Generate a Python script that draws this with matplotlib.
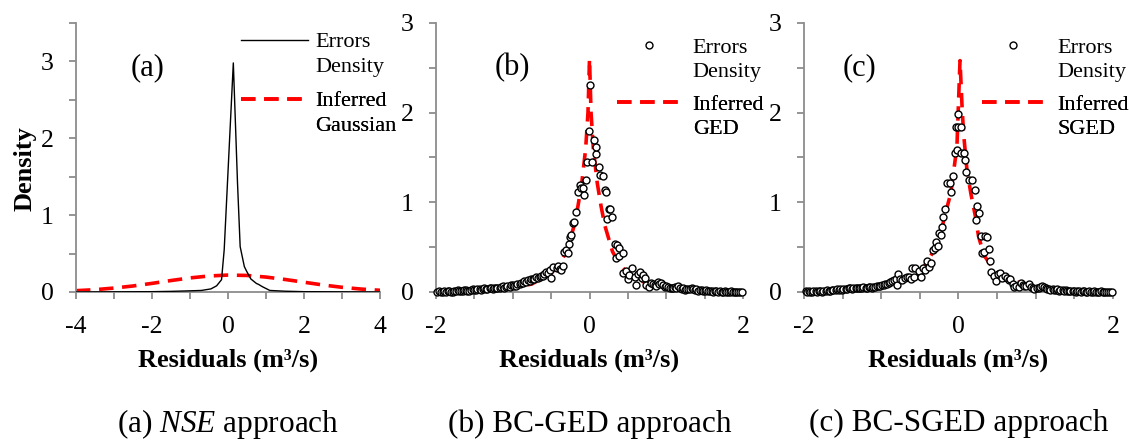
import matplotlib
matplotlib.use("Agg")
import matplotlib.pyplot as plt
from matplotlib.lines import Line2D

plt.rcParams['font.family'] = ['Liberation Serif', 'DejaVu Serif']
plt.rcParams['mathtext.fontset'] = 'custom'
plt.rcParams['mathtext.rm'] = 'Liberation Serif'
plt.rcParams['mathtext.it'] = 'Liberation Serif:italic'
plt.rcParams['axes.unicode_minus'] = False

# (a) NSE: empirical error density and fitted Gaussian
err_a_x = [-4.0, -3.0, -2.0, -1.5, -1.0, -0.7, -0.45, -0.3, -0.17, -0.1, 0.14,
           0.25, 0.32, 0.43, 0.49, 0.6, 0.75, 0.8, 0.9, 1.1, 1.5, 2.0, 3.0, 4.0]
err_a_y = [0.0, 0.002, 0.004, 0.008, 0.015, 0.02, 0.04, 0.08, 0.16, 0.55, 2.98,
           1.42, 0.59, 0.33, 0.27, 0.17, 0.11, 0.10, 0.07, 0.02, 0.01, 0.004, 0.002, 0.0]
gauss_x = [-4.0, -3.5, -3.0, -2.5, -2.0, -1.5, -1.0, -0.5, 0.0, 0.5,
           1.0, 1.5, 2.0, 2.5, 3.0, 3.5, 4.0]
gauss_y = [0.017, 0.030, 0.051, 0.078, 0.112, 0.149, 0.183, 0.208, 0.220, 0.215,
           0.194, 0.163, 0.127, 0.091, 0.061, 0.038, 0.022]

# (b) BC-GED: error density points (10 per row) and fitted GED
err_b_x = [-1.99, -1.96, -1.94, -1.91, -1.89, -1.87, -1.85, -1.83, -1.81, -1.78,
           -1.76, -1.74, -1.72, -1.70, -1.68, -1.65, -1.63, -1.61, -1.59, -1.57,
           -1.55, -1.52, -1.50, -1.48, -1.46, -1.43, -1.41, -1.39, -1.37, -1.35,
           -1.33, -1.30, -1.28, -1.26, -1.24, -1.22, -1.20, -1.17, -1.15, -1.13,
           -1.11, -1.09, -1.07, -1.04, -1.02, -1.00, -0.98, -0.96, -0.94, -0.91,
           -0.89, -0.87, -0.85, -0.83, -0.80, -0.78, -0.76, -0.74, -0.72, -0.70,
           -0.67, -0.65, -0.63, -0.61, -0.59, -0.57, -0.54, -0.52, -0.50, -0.47,
           -0.43, -0.41, -0.39, -0.37, -0.35, -0.33, -0.30, -0.28, -0.27, -0.26,
           -0.24, -0.22, -0.20, -0.17, -0.15, -0.13, -0.11, -0.09, -0.07, -0.04,
           -0.03, -0.01, 0.01, 0.03, 0.06, 0.08, 0.09, 0.12, 0.14, 0.17,
           0.20, 0.22, 0.23, 0.25, 0.27, 0.29, 0.33, 0.35, 0.36, 0.38,
           0.39, 0.43, 0.44, 0.48, 0.50, 0.52, 0.56, 0.59, 0.61, 0.63,
           0.66, 0.68, 0.70, 0.72, 0.74, 0.77, 0.80, 0.83, 0.85, 0.87,
           0.89, 0.91, 0.93, 0.96, 0.98, 1.00, 1.02, 1.05, 1.07, 1.09,
           1.11, 1.13, 1.15, 1.18, 1.20, 1.22, 1.24, 1.26, 1.28, 1.31,
           1.33, 1.35, 1.37, 1.39, 1.41, 1.44, 1.46, 1.48, 1.50, 1.52,
           1.54, 1.57, 1.59, 1.61, 1.63, 1.65, 1.67, 1.70, 1.72, 1.74,
           1.76, 1.78, 1.80, 1.83, 1.85, 1.87, 1.89, 1.91, 1.93, 1.96,
           1.99]
err_b_y = [0.00, 0.01, 0.00, 0.00, 0.01, 0.00, 0.01, 0.01, 0.00, 0.00,
           0.01, 0.01, 0.02, 0.01, 0.01, 0.01, 0.02, 0.02, 0.01, 0.01,
           0.02, 0.03, 0.02, 0.02, 0.03, 0.03, 0.02, 0.03, 0.04, 0.03,
           0.03, 0.04, 0.04, 0.03, 0.05, 0.04, 0.05, 0.04, 0.06, 0.07,
           0.05, 0.06, 0.07, 0.06, 0.08, 0.08, 0.07, 0.07, 0.09, 0.09,
           0.10, 0.10, 0.12, 0.11, 0.13, 0.12, 0.15, 0.14, 0.15, 0.17,
           0.16, 0.17, 0.18, 0.18, 0.20, 0.22, 0.21, 0.25, 0.16, 0.28,
           0.27, 0.29, 0.26, 0.24, 0.29, 0.45, 0.47, 0.43, 0.53, 0.61,
           0.63, 0.77, 0.78, 0.89, 1.12, 1.19, 1.16, 1.16, 1.08, 1.25,
           1.45, 1.79, 2.31, 1.45, 1.70, 1.54, 1.62, 1.39, 1.31, 1.29,
           1.14, 1.11, 0.81, 0.93, 0.92, 0.84, 0.53, 0.38, 0.52, 0.40,
           0.49, 0.43, 0.21, 0.23, 0.14, 0.19, 0.27, 0.17, 0.08, 0.20,
           0.22, 0.16, 0.19, 0.16, 0.08, 0.06, 0.10, 0.09, 0.08, 0.07,
           0.11, 0.09, 0.10, 0.08, 0.06, 0.07, 0.06, 0.05, 0.04, 0.05,
           0.06, 0.05, 0.07, 0.04, 0.03, 0.04, 0.02, 0.03, 0.03, 0.03,
           0.04, 0.03, 0.02, 0.03, 0.01, 0.02, 0.02, 0.01, 0.01, 0.02,
           0.01, 0.01, 0.01, 0.00, 0.01, 0.01, 0.00, 0.01, 0.00, 0.00,
           0.01, 0.00, 0.00, 0.00, 0.01, 0.00, 0.00, 0.00, 0.00, 0.00,
           0.00]
ged_x = [-2.0, -1.5, -1.0, -0.75, -0.5, -0.4, -0.3, -0.2, -0.15, -0.1, -0.05, -0.02, 0.0,
         0.02, 0.05, 0.1, 0.15, 0.2, 0.3, 0.4, 0.5, 0.75, 1.0, 1.5, 2.0]
ged_y = [0.004, 0.012, 0.04, 0.09, 0.21, 0.30, 0.45, 0.74, 0.96, 1.22, 1.60, 2.0, 2.6,
         2.0, 1.60, 1.22, 0.96, 0.74, 0.45, 0.30, 0.21, 0.09, 0.04, 0.012, 0.004]

# (c) BC-SGED: error density points (10 per row) and fitted SGED
err_c_x = [-1.98, -1.96, -1.94, -1.92, -1.90, -1.88, -1.85, -1.83, -1.81, -1.79,
           -1.77, -1.75, -1.72, -1.70, -1.68, -1.66, -1.64, -1.62, -1.59, -1.57,
           -1.55, -1.53, -1.51, -1.49, -1.46, -1.44, -1.42, -1.40, -1.38, -1.36,
           -1.33, -1.31, -1.29, -1.27, -1.25, -1.23, -1.20, -1.18, -1.16, -1.14,
           -1.12, -1.10, -1.08, -1.06, -1.03, -1.01, -0.99, -0.97, -0.95, -0.93,
           -0.90, -0.88, -0.86, -0.84, -0.81, -0.80, -0.78, -0.76, -0.73, -0.69,
           -0.66, -0.64, -0.62, -0.60, -0.58, -0.56, -0.51, -0.49, -0.46, -0.43,
           -0.41, -0.38, -0.36, -0.33, -0.30, -0.29, -0.26, -0.25, -0.23, -0.21,
           -0.20, -0.18, -0.15, -0.11, -0.10, -0.07, -0.05, -0.03, -0.02, -0.01,
           0.00, 0.03, 0.03, 0.07, 0.09, 0.10, 0.13, 0.18, 0.21, 0.23,
           0.24, 0.26, 0.29, 0.31, 0.33, 0.34, 0.37, 0.39, 0.41, 0.42,
           0.46, 0.49, 0.51, 0.54, 0.57, 0.60, 0.63, 0.65, 0.67, 0.70,
           0.72, 0.75, 0.78, 0.81, 0.83, 0.85, 0.88, 0.91, 0.94, 0.96,
           0.98, 1.02, 1.04, 1.06, 1.08, 1.11, 1.13, 1.15, 1.17, 1.19,
           1.22, 1.24, 1.26, 1.28, 1.30, 1.32, 1.35, 1.37, 1.39, 1.41,
           1.43, 1.45, 1.48, 1.50, 1.52, 1.54, 1.56, 1.58, 1.61, 1.63,
           1.65, 1.67, 1.69, 1.71, 1.74, 1.76, 1.78, 1.80, 1.82, 1.84,
           1.87, 1.89, 1.91, 1.93, 1.96, 1.99]
err_c_y = [0.01, 0.00, 0.01, 0.00, 0.00, 0.01, 0.01, 0.00, 0.01, 0.01,
           0.00, 0.01, 0.01, 0.02, 0.01, 0.01, 0.02, 0.02, 0.02, 0.03,
           0.02, 0.03, 0.02, 0.03, 0.03, 0.03, 0.04, 0.04, 0.03, 0.04,
           0.05, 0.05, 0.04, 0.04, 0.05, 0.06, 0.05, 0.05, 0.06, 0.06,
           0.05, 0.06, 0.06, 0.07, 0.07, 0.07, 0.08, 0.08, 0.09, 0.09,
           0.10, 0.11, 0.12, 0.13, 0.14, 0.08, 0.20, 0.15, 0.13, 0.16,
           0.17, 0.17, 0.14, 0.27, 0.17, 0.27, 0.23, 0.17, 0.27, 0.25,
           0.34, 0.28, 0.32, 0.47, 0.49, 0.56, 0.51, 0.66, 0.63, 0.73,
           0.84, 0.92, 1.22, 1.21, 1.12, 1.29, 1.55, 1.84, 1.58, 1.99,
           1.84, 1.84, 1.55, 1.55, 1.47, 1.34, 1.25, 1.25, 1.14, 0.80,
           0.96, 0.88, 0.62, 0.43, 0.45, 0.62, 0.61, 0.48, 0.34, 0.22,
           0.18, 0.12, 0.20, 0.21, 0.16, 0.18, 0.16, 0.13, 0.14, 0.09,
           0.06, 0.07, 0.06, 0.10, 0.08, 0.07, 0.07, 0.09, 0.06, 0.05,
           0.03, 0.04, 0.05, 0.06, 0.07, 0.06, 0.05, 0.03, 0.03, 0.02,
           0.03, 0.02, 0.02, 0.03, 0.01, 0.02, 0.02, 0.01, 0.02, 0.01,
           0.01, 0.01, 0.01, 0.01, 0.00, 0.01, 0.01, 0.00, 0.01, 0.01,
           0.00, 0.00, 0.01, 0.00, 0.00, 0.01, 0.00, 0.00, 0.00, 0.01,
           0.00, 0.00, 0.00, 0.00, 0.00, 0.00]
sged_x = [-2.0, -1.5, -1.0, -0.75, -0.55, -0.45, -0.34, -0.23, -0.18, -0.10, -0.06, -0.02,
          0.02, 0.05, 0.07, 0.11, 0.16, 0.22, 0.26, 0.33, 0.41, 0.50, 0.67, 0.80, 1.0, 1.5, 2.0]
sged_y = [0.004, 0.015, 0.05, 0.11, 0.21, 0.28, 0.43, 0.65, 0.84, 1.10, 1.36, 1.62,
          2.58, 2.0, 1.73, 1.36, 1.10, 0.84, 0.62, 0.41, 0.31, 0.23, 0.14, 0.10, 0.05, 0.015, 0.004]

captions = [r'(a) $\it{NSE}$ approach', '(b) BC-GED approach', '(c) BC-SGED approach']
axis_grey = '#8c8c8c'
red = '#ff0000'
dash = (4.0, 2.4)

fig = plt.figure(figsize=(11.29, 4.4), dpi=100)
ax_a = fig.add_axes([0.0673, 0.3364, 0.2693, 0.6114])
ax_b = fig.add_axes([0.3862, 0.3364, 0.2719, 0.6114])
ax_c = fig.add_axes([0.7121, 0.3364, 0.2737, 0.6114])


def style(ax, xlim, ylim, xmajor, xminor):
    for s in ['top', 'right']:
        ax.spines[s].set_visible(False)
    for s in ['left', 'bottom']:
        ax.spines[s].set_color(axis_grey)
        ax.spines[s].set_linewidth(1.3)
    ax.set_xlim(xlim)
    ax.set_ylim(ylim)
    ax.set_xticks(xmajor)
    ax.set_xticks(xminor, minor=True)
    ax.set_yticks([0, 1, 2, 3])
    ax.set_yticks([0.5, 1.5, 2.5] + ([3.5] if ylim[1] > 3 else []), minor=True)
    ax.tick_params(which='both', direction='out', length=5, width=1.3, color=axis_grey,
                   labelsize=18.5)
    ax.tick_params(axis='x', pad=12.3)
    ax.tick_params(axis='y', pad=11)
    ax.set_xlabel('Residuals (m³/s)', fontsize=19, fontweight='bold', labelpad=7.5)


def key(ax, handle, first, second, anchor, hlen, tpad):
    blank = Line2D([], [], linestyle='none')
    leg = ax.legend([handle, blank], [first, second], loc='upper left', bbox_to_anchor=anchor,
                    frameon=False, fontsize=16, handlelength=hlen, handletextpad=tpad,
                    labelspacing=0.17, borderpad=0, borderaxespad=0)
    ax.add_artist(leg)


# (a)
style(ax_a, (-4, 4), (0, 3.5), [-4, -2, 0, 2, 4], range(-4, 5))
line_a, = ax_a.plot(err_a_x, err_a_y, color='black', lw=1.0, zorder=3)
gauss, = ax_a.plot(gauss_x, gauss_y, color=red, lw=2.6, dashes=dash, zorder=2)
ax_a.set_ylabel('Density', fontsize=19, fontweight='bold')
ax_a.yaxis.set_label_coords(-0.13, 0.46)
ax_a.text(0.234, 0.833, '(a)', transform=ax_a.transAxes, fontsize=22, ha='center', va='center')
key(ax_a, line_a, 'Errors', 'Density', (0.543, 0.967), 3.0, 0.35)
key(ax_a, gauss, 'Inferred', 'Gaussian', (0.543, 0.748), 3.0, 0.35)

# (b) and (c)
for ax, ex, ey, fx, fy, tag, name in [
        (ax_b, err_b_x, err_b_y, ged_x, ged_y, '(b)', 'GED'),
        (ax_c, err_c_x, err_c_y, sged_x, sged_y, '(c)', 'SGED')]:
    style(ax, (-2, 2), (0, 3), [-2, 0, 2], [-2, -1.5, -1, -0.5, 0, 0.5, 1, 1.5, 2])
    fit, = ax.plot(fx, fy, color=red, lw=2.6, dashes=dash, zorder=2)
    pts, = ax.plot(ex, ey, linestyle='none', marker='o', ms=5.0, mfc='white', mec='black',
                   mew=1.0, zorder=3, clip_on=False)
    tx = 0.248 if tag == '(b)' else 0.181
    ax.text(tx, 0.833, tag, transform=ax.transAxes, fontsize=22, ha='center', va='center')
    hx = 0.59 if tag == '(b)' else 0.575
    key(ax, pts, 'Errors', 'Density', (hx, 0.946), 2.85, 0.55)
    key(ax, fit, 'Inferred', name, (hx, 0.735), 2.85, 0.55)

for ax, cap in zip([ax_a, ax_b, ax_c], captions):
    ax.text(0.5, -0.49, cap, transform=ax.transAxes, fontsize=22.5, ha='center', va='center')

fig.savefig('out.png', dpi=100)
